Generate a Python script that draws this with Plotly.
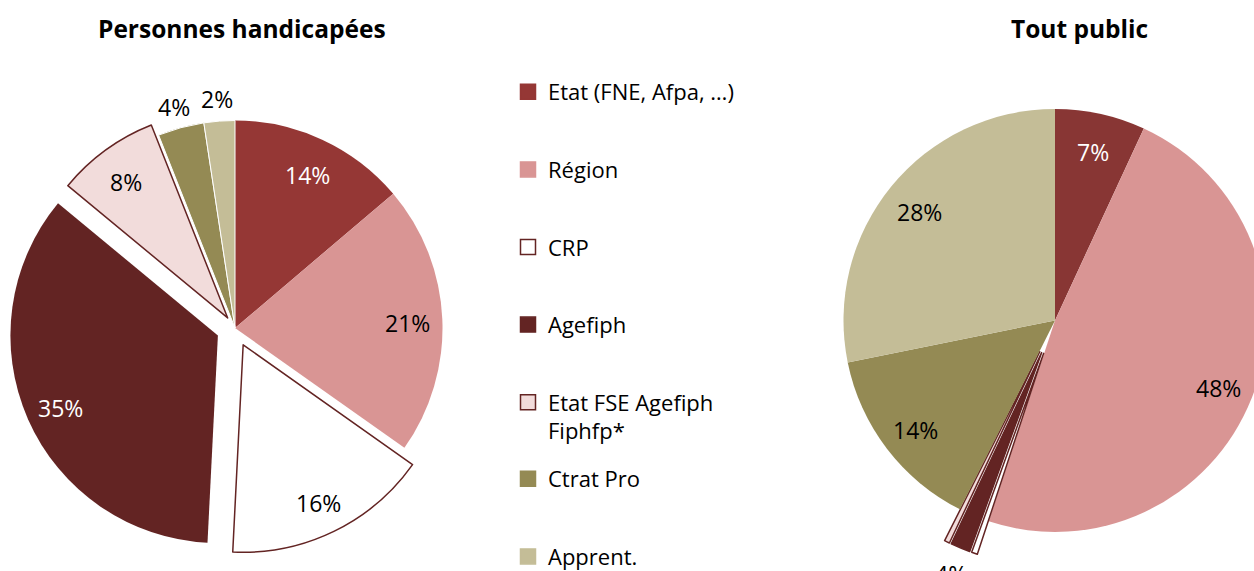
import math
import plotly.graph_objects as go

# ---- data ----
categories = ["Etat (FNE, Afpa, …)", "Région", "CRP", "Agefiph",
              "Etat FSE Agefiph<br>Fiphfp*", "Ctrat Pro", "Apprent."]
left_values = [13.8, 21, 16, 35.2, 8, 3.6, 2.4]
left_text = ["14%", "21%", "16%", "35%", "8%", "4%", "2%"]
right_values = [6.9, 48.2, 0.45, 1.5, 0.4, 14.4, 28.2]
right_text = ["7%", "48%", "", "4%", "", "14%", "28%"]
left_title = "Personnes handicapées"
right_title = "Tout public"

# ---- styles / geometry ----
FONT = "Open Sans, sans-serif"
W, H = 1310, 571
dark = "#632423"
fill_left = ["#953735", "#D99594", "#FFFFFF", "#632423", "#F2DCDB", "#948A54", "#C4BD97"]
fill_right = ["#883634", "#D99594", "#FFFFFF", "#632423", "#F2DCDB", "#948A54", "#C4BD97"]
legend_fill = ["#953735", "#D99594", "#FFFFFF", "#632423", "#F2DCDB", "#948A54", "#C4BD97"]
legend_line = ["#953735", "#D99594", dark, dark, dark, "#948A54", "#C4BD97"]

pies = [
    dict(values=left_values, text=left_text, cx=235, cy=328, R=207.5,
         pull=[0, 0, 0.09, 0.09, 0.06, 0, 0], fill=fill_left,
         line_color=["#953735", "#D99594", dark, dark, dark, "white", "white"],
         line_width=[0, 0, 1.5, 0, 1.5, 1, 1],
         outside=[False, False, False, False, False, True, True],
         tcolor=["white", "black", "black", "white", "black", "black", "black"]),
    dict(values=right_values, text=right_text, cx=1055, cy=320.4, R=211.5,
         pull=[0, 0, 0.165, 0.165, 0.165, 0, 0], fill=fill_right,
         line_color=["#883634", "#D99594", dark, dark, dark, "#948A54", "#C4BD97"],
         line_width=[0, 0, 1.5, 1.5, 1.5, 0, 0],
         outside=[False, False, False, True, False, False, False],
         tcolor=["white", "black", "black", "black", "black", "black", "black"]),
]

fig = go.Figure()
annotations = []

for p in pies:
    half = p["R"] * (1 + max(p["pull"]))
    fig.add_trace(go.Pie(
        labels=categories, values=p["values"], textinfo="none",
        sort=False, direction="clockwise", rotation=0,
        pull=p["pull"],
        marker=dict(colors=p["fill"],
                    line=dict(color=p["line_color"], width=p["line_width"])),
        domain=dict(x=[(p["cx"] - half) / W, (p["cx"] + half) / W],
                    y=[1 - (p["cy"] + half) / H, 1 - (p["cy"] - half) / H]),
        showlegend=False, hoverinfo="label+percent",
    ))
    # data labels placed along each slice bisector (Excel style, horizontal)
    total = sum(p["values"])
    cum = 0.0
    for i, v in enumerate(p["values"]):
        mid = (cum + v / 2) / total * 2 * math.pi
        cum += v
        if not p["text"][i]:
            continue
        off = p["pull"][i] * p["R"]
        rad = off + (p["R"] * 1.12 if p["outside"][i] else p["R"] * 0.83)
        x = p["cx"] + rad * math.sin(mid)
        y = p["cy"] - rad * math.cos(mid) + 3
        annotations.append(dict(
            text=p["text"][i], x=x / W, y=1 - y / H, xref="paper", yref="paper",
            xanchor="center", yanchor="middle", showarrow=False,
            font=dict(family=FONT, size=23, color=p["tcolor"][i])))

# legend entries (dummy traces, one group each)
for i, name in enumerate(categories):
    fig.add_trace(go.Scatter(
        x=[None], y=[None], mode="markers", name=name,
        marker=dict(symbol="square", size=15, color=legend_fill[i],
                    line=dict(color=legend_line[i], width=1.5)),
        legendgroup=f"g{i}", legend="legend" if i < 5 else "legend2",
        hoverinfo="skip",
    ))

legend_common = dict(font=dict(family=FONT, size=22, color="black"),
                     bgcolor="rgba(0,0,0,0)", tracegroupgap=46,
                     xanchor="left", yanchor="top", valign="top",
                     itemclick=False, itemdoubleclick=False)

annotations += [
    dict(text=f"<b>{left_title}</b>", x=242 / W, y=1 - 29 / H,
         xref="paper", yref="paper", xanchor="center", yanchor="middle", showarrow=False,
         font=dict(family=FONT, size=24.5, color="black")),
    dict(text=f"<b>{right_title}</b>", x=1079 / W, y=1 - 29 / H,
         xref="paper", yref="paper", xanchor="center", yanchor="middle", showarrow=False,
         font=dict(family=FONT, size=24.5, color="black")),
]

fig.update_layout(
    width=W, height=H,
    margin=dict(l=0, r=0, t=0, b=0, autoexpand=False),
    paper_bgcolor="white", plot_bgcolor="white",
    font=dict(family=FONT, color="black"),
    xaxis=dict(visible=False), yaxis=dict(visible=False),
    legend=dict(x=508 / W, y=1 - 71 / H, **legend_common),
    legend2=dict(x=508 / W, y=1 - 458 / H, **legend_common),
    annotations=annotations,
)

fig.write_html(
    "out.html",
    config={"displayModeBar": False},
    post_script=(
        "var gd=document.getElementById('{plot_id}');"
        "gd.style.width='1254px';gd.style.overflow='hidden';"
        "if(gd.parentElement){gd.parentElement.style.width='1254px';gd.parentElement.style.overflow='hidden';}"
        "document.body.style.margin='0';document.body.style.overflow='hidden';"
        "document.documentElement.style.overflow='hidden';"
    ),
)
